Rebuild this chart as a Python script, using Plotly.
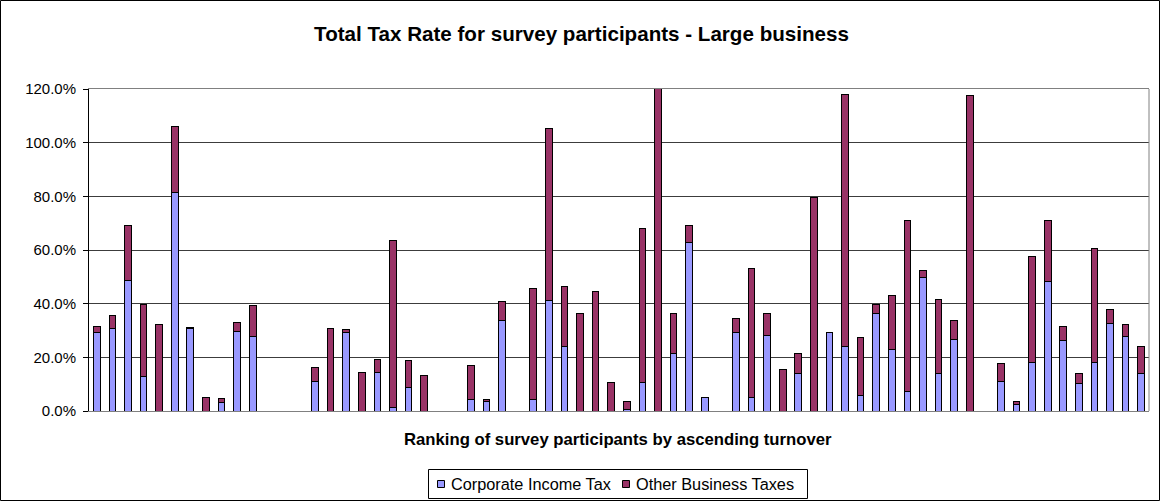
import plotly.graph_objects as go

# Ranking of survey participants (68 slots, some empty)
ranks = list(range(1, 69))

# Corporate Income Tax (%), None = no participant shown
corporate_income_tax = [
    29.1, 30.7, 48.8, 12.9, 0, 81.4, 30.7, 0, 3.2, 29.6, 27.9,
    None, None, None,
    11.0, 0, 29.3, 0, 14.3, 1.4, 8.6, 0,
    None, None,
    4.2, 3.4, 33.6,
    None,
    4.2, 41.3, 23.9, 0, 0, 0, 0.7, 10.5, 0, 21.4, 62.9, 5.1,
    None,
    29.3, 5.2, 28.3, 0, 13.8, 0, 29.3, 23.9, 5.7, 36.3, 22.9, 7.1, 49.8, 13.8, 26.8, 0,
    None,
    11.0, 2.4, 18.1, 48.4, 26.3, 10.1, 18.1, 32.6, 27.9, 13.8,
]

# Other Business Taxes (%)
other_business_taxes = [
    2.5, 4.8, 20.3, 26.8, 32.2, 24.5, 0.5, 5.1, 1.5, 3.4, 11.4,
    None, None, None,
    5.3, 30.7, 1.1, 14.3, 4.9, 62.3, 10.4, 13.4,
    None, None,
    12.6, 0.8, 7.2,
    None,
    41.4, 63.8, 22.5, 36.3, 44.7, 10.5, 2.7, 57.6, 122.0, 14.9, 6.2, 0,
    None,
    5.2, 48.0, 8.0, 15.3, 7.7, 79.7, 0, 94.2, 21.6, 3.5, 20.2, 63.9, 2.5, 27.9, 6.8, 117.5,
    None,
    6.7, 1.0, 39.4, 22.6, 5.3, 3.7, 42.3, 5.2, 4.2, 10.1,
]

series_names = ["Corporate Income Tax", "Other Business Taxes"]
series_colors = ["#9999FF", "#993366"]
y_ticks = [0, 0.2, 0.4, 0.6, 0.8, 1.0, 1.2]

FONT = "Liberation Sans, Arial, sans-serif"
W, H = 1160, 501
ML, MR, MT, MB = 89, 11, 89, 90
PW, PH = W - ML - MR, H - MT - MB


def px_to_paper_x(px):
    return (px - ML) / PW


def px_to_paper_y(py):
    return (H - MB - py) / PH


def frac(v):
    return None if v is None else v / 100.0


fig = go.Figure()
for name, color, vals in zip(series_names, series_colors,
                             [corporate_income_tax, other_business_taxes]):
    fig.add_trace(go.Bar(
        x=ranks, y=[frac(v) for v in vals],
        name=name,
        marker=dict(color=color, line=dict(color="#000000", width=1)),
        showlegend=False,
    ))

# custom legend (box, swatches, labels)
shapes = [
    dict(type="line", xref="paper", yref="paper", x0=1, x1=1, y0=0, y1=1,
         line=dict(color="#808080", width=1)),
    dict(type="rect", xref="paper", yref="paper",
         x0=px_to_paper_x(0.5), x1=px_to_paper_x(W - 0.5),
         y0=px_to_paper_y(H - 0.5), y1=px_to_paper_y(0.5),
         line=dict(color="#000000", width=1), layer="below"),
    dict(type="rect", xref="paper", yref="paper",
         x0=px_to_paper_x(428.5), x1=px_to_paper_x(807.5),
         y0=px_to_paper_y(498.5), y1=px_to_paper_y(469.5),
         line=dict(color="#000000", width=1), fillcolor="white", layer="below"),
]
annotations = [dict(
    text="<b>Ranking of survey participants by ascending turnover</b>",
    xref="paper", yref="paper",
    x=px_to_paper_x(618), y=px_to_paper_y(440),
    xanchor="center", yanchor="middle", showarrow=False,
    font=dict(family=FONT, size=16.7, color="#000000"),
)]
swatch_x = [437.5, 622.5]
for sx, name, color in zip(swatch_x, series_names, series_colors):
    shapes.append(dict(
        type="rect", xref="paper", yref="paper",
        x0=px_to_paper_x(sx), x1=px_to_paper_x(sx + 7),
        y0=px_to_paper_y(487.5), y1=px_to_paper_y(480.5),
        line=dict(color="#000000", width=1), fillcolor=color,
    ))
    annotations.append(dict(
        text=name, xref="paper", yref="paper",
        x=px_to_paper_x(sx + 11), y=px_to_paper_y(484.5),
        xanchor="left", yanchor="middle", showarrow=False,
        font=dict(family=FONT, size=16.3, color="#000000"),
    ))

fig.update_layout(
    width=W, height=H,
    margin=dict(l=ML, r=MR, t=MT, b=MB, autoexpand=False),
    barmode="stack",
    bargap=0.57,
    paper_bgcolor="white",
    plot_bgcolor="white",
    font=dict(family=FONT, size=15, color="#000000"),
    showlegend=False,
    title=dict(
        text="<b>Total Tax Rate for survey participants - Large business</b>",
        x=581.5 / W, xref="container", xanchor="center",
        y=1 - 34 / H, yref="container", yanchor="middle",
        font=dict(family=FONT, size=20.6, color="#000000"),
    ),
    xaxis=dict(
        range=[0.5, 68.5], showticklabels=False, ticks="",
        showgrid=False, zeroline=False,
        showline=True, linecolor="#808080", linewidth=1, mirror=True,
        fixedrange=True,
    ),
    yaxis=dict(
        range=[0, 1.2], tickvals=y_ticks, tickformat=".1%",
        ticks="outside", ticklen=5, tickcolor="#000000",
        showgrid=True, gridcolor="#3c3c3c", gridwidth=1,
        zeroline=False,
        showline=True, linecolor="#000000", linewidth=1,
        ticklabelstandoff=4,
        tickfont=dict(family=FONT, size=15, color="#000000"),
    ),
    annotations=annotations,
    shapes=shapes,
)

fig.write_html("out.html", config={"displayModeBar": False},
               post_script="document.body.style.margin='0';")
